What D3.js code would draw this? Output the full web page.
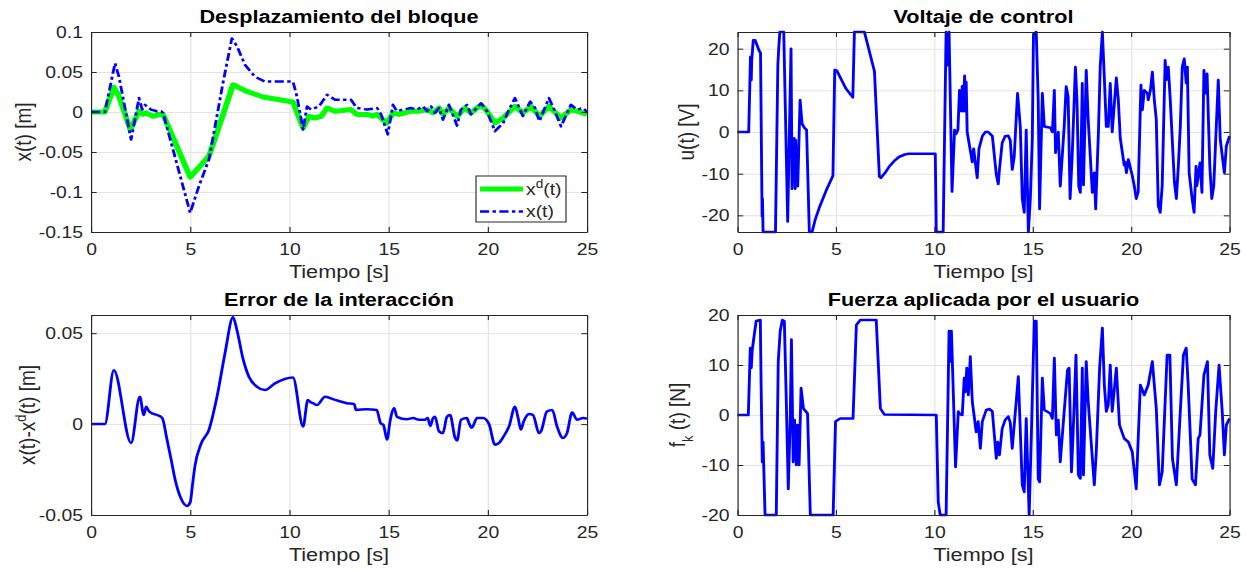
<!doctype html>
<html lang="es">
<head>
<meta charset="utf-8">
<title>Bloque - respuesta</title>
<script src="https://d3js.org/d3.v7.min.js"></script>
<style>
  body { margin: 0; background: #fff; }
  svg { display: block; font-family: "Liberation Sans", Arial, Helvetica, sans-serif; }
  .ax path, .ax line { stroke: #262626; stroke-width: 1; }
  .ax text { font-family: "Liberation Sans", Arial, sans-serif; font-size: 17px; fill: #262626; }
  .grid path { display: none; }
  .grid line { stroke: #e3e3e3; stroke-width: 1; }
  .lbl { font-size: 19px; fill: #262626; }
  .ttl { font-size: 19px; font-weight: bold; fill: #000; }
</style>
</head>
<body>
<svg width="1246" height="571"></svg>
<script>
// ticks
var xTicks = [0, 5, 10, 15, 20, 25];
var yTicksDesp = [-0.15, -0.1, -0.05, 0, 0.05, 0.1];
var yTicksVolt = [-20, -10, 0, 10, 20];
var yTicksErr = [-0.05, 0, 0.05];
var yTicksFuerza = [-20, -10, 0, 10, 20];

// x^d(t) [m]
var xdSeries = [[0,0],[0.7,0],[1.15,0.031],[1.41,0.0195],[1.98,-0.022],[2.42,0.001],[2.62,-0.003],[2.78,-0.001],[3.12,-0.0054],[3.43,-0.003],[3.63,-0.003],
  [5.0,-0.0814],[5.95,-0.055],[7.16,0.034],[7.86,0.0257],[8.67,0.0187],[10.18,0.0125],[10.69,-0.02],[10.99,-0.0054],[11.29,-0.0075],[11.6,-0.0054],
  [11.9,0.005],[12.3,0.001],[13.1,0.003],[13.4,-0.003],[13.91,-0.003],[14.2,-0.005],[14.42,-0.003],[14.72,-0.0096],[14.92,-0.0137],[15.22,-0.001],
  [15.52,-0.003],[16.13,0.001],[16.53,0.001],[16.94,0.003],[17.24,-0.001],[17.54,0.005],[17.74,-0.003],[18.04,0.005],[18.45,-0.0054],[18.85,0.005],
  [19.15,-0.001],[19.66,0.009],[19.96,0.001],[20.36,-0.0137],[20.77,-0.0075],[21.37,0.007],[21.77,-0.001],[22.18,0.007],[22.6,-0.0054],[23.08,0.007],
  [23.69,-0.0075],[24.19,0.003],[24.5,0.001],[25,-0.003]];

// x(t) [m]
var xSeries = [[0,0],[0.7,0],[1.21,0.061],[1.41,0.044],[2.02,-0.0345],[2.42,0.0174],[2.58,0.003],[2.72,0.009],[3.02,0.003],[3.33,0.001],[3.53,0.001],[3.63,-0.001],
  [5.0,-0.126],[5.44,-0.0926],[5.95,-0.059],[6.65,0.036],[7.1,0.092],[7.36,0.082],[7.76,0.059],[8.27,0.044],[8.77,0.038],[10.18,0.038],[10.38,0.0195],
  [10.69,-0.022],[10.89,0.007],[11.09,0.003],[11.49,0.007],[11.9,0.0216],[12.3,0.0154],[13.1,0.0154],[13.4,0.005],[13.91,0.003],[14.42,0.005],[14.62,-0.003],
  [14.96,-0.028],[15.22,0.009],[15.42,0.001],[15.73,0.003],[16.13,0.005],[16.43,0.003],[16.73,0.007],[16.94,0.001],[17.14,0.007],[17.34,-0.001],[17.54,0.005],
  [17.74,-0.0096],[18.04,0.009],[18.45,-0.017],[18.65,0.003],[18.95,0.009],[19.15,-0.003],[19.66,0.011],[19.96,0.001],[20.36,-0.024],[20.77,-0.014],
  [21.07,0.003],[21.37,0.0174],[21.77,-0.005],[22.14,0.013],[22.38,0.005],[22.6,-0.0116],[23.08,0.0174],[23.38,0.001],[23.69,-0.018],[24.19,0.009],
  [24.5,0.003],[24.8,0.005],[25,0]];

// u(t) [V]
var uSeries = [[0,0],[0.57,0],[0.66,18],[0.7,12.5],[0.72,17],[0.8,22],[0.9,22],[1.1,19.5],[1.17,19],[1.25,-20.3],[1.27,-16],[1.3,-24],[1.93,-24],
  [2.05,16],[2.1,20.5],[2.15,24],[2.35,24],[2.55,-21.5],[2.72,20],[2.77,-13.6],[2.83,-2],[2.88,-1.5],[2.93,-13.6],[2.96,-2],[3.0,-11],[3.06,-13],
  [3.18,7.7],[3.28,2],[3.4,1],[3.51,0.5],[3.65,-24],[3.79,-24],[3.95,-21],[4.17,-18],[4.51,-14],[4.85,-10.5],[4.94,14.9],[5.05,14.7],[5.5,10.5],
  [5.86,8.3],[5.94,24],[6.45,24],[6.96,14.5],[7.21,-10.7],[7.29,-11],[7.5,-9.8],[7.71,-8.3],[8.0,-6.8],[8.2,-6],[8.5,-5.4],[8.7,-5.2],[10.05,-5.2],
  [10.1,-24],[10.45,-24],[10.6,24],[10.7,16],[10.75,24],[10.9,-14.3],[11.03,0.5],[11.1,-0.5],[11.2,0.5],[11.28,10],[11.37,5],[11.42,11],[11.47,5],
  [11.54,13.5],[11.58,5],[11.62,12],[11.67,0],[11.93,-7.2],[12.0,-4],[12.18,-11],[12.27,-4],[12.44,-1],[12.6,0],[12.74,0],[12.95,-1],[13.15,-10.2],
  [13.25,-12.5],[13.31,-9],[13.45,-2.6],[13.6,-1],[13.76,-0.9],[13.86,-2],[13.96,-9],[14.06,-6],[14.23,9.3],[14.37,1.3],[14.47,-16],[14.57,-19.3],
  [14.67,0.5],[14.78,-24],[14.88,-16],[14.98,-1.5],[15.04,23.5],[15.18,24],[15.28,7.7],[15.35,-18.5],[15.49,9.3],[15.59,1.3],[15.9,1],[16.0,0],
  [16.1,10],[16.16,-5],[16.3,0],[16.4,-13],[16.6,1.3],[16.7,10.9],[16.8,8.5],[16.9,-16],[17.0,-6.5],[17.17,15.6],[17.25,7.7],[17.34,-13],[17.42,-14.5],
  [17.52,11.7],[17.58,-12.7],[17.72,14.8],[17.82,3],[18.03,-14.5],[18.13,-9.8],[18.2,-18.5],[18.34,0],[18.43,15.6],[18.54,24],[18.64,13],[18.74,1.3],
  [18.84,1.3],[18.94,11.7],[19.04,0],[19.25,13],[19.35,7.7],[19.45,-1.5],[19.65,-8],[19.7,-7.2],[19.76,-9.8],[19.86,-6.6],[20.06,-10.5],[20.16,-12.9],
  [20.26,-16],[20.36,-14.4],[20.47,6],[20.5,11.3],[20.57,5.3],[20.67,10],[20.83,9.3],[20.87,7.7],[20.98,10],[21.08,14.4],[21.18,7.7],[21.28,3],
  [21.38,-17.7],[21.48,-19.3],[21.58,-12.9],[21.73,17.2],[21.79,12.5],[21.89,15.6],[21.99,7.7],[22.2,-12],[22.3,-16],[22.4,-8.2],[22.5,1.3],[22.6,15.6],
  [22.7,17.6],[22.8,11.7],[22.86,15.6],[22.95,-9.8],[23.1,-16],[23.2,-19.3],[23.3,-8.2],[23.34,-12.9],[23.5,-7.4],[23.6,-14.5],[23.7,14.8],[23.8,9.3],
  [23.86,14],[24.0,-8.2],[24.1,-16],[24.2,-12.9],[24.3,-1.8],[24.43,12.5],[24.53,-1.8],[24.74,-9.8],[24.84,-3.4],[25,-1]];

// x(t)-x^d(t) [m]
var errSeries = [[0,0],[0.7,0],[1.15,0.0296],[2.02,-0.0104],[2.46,0.015],[2.66,0.005],[2.78,0.0096],[2.92,0.007],[3.12,0.0057],[3.33,0.005],[3.59,0.0033],
  [3.83,-0.0085],[4.03,-0.019],[4.23,-0.03],[4.54,-0.041],[4.84,-0.045],[5.0,-0.043],[5.12,-0.033],[5.24,-0.023],[5.54,-0.011],[5.95,-0.003],
  [6.35,0.015],[6.75,0.0387],[7.16,0.0587],[7.36,0.0515],[7.66,0.036],[7.96,0.026],[8.37,0.0205],[8.77,0.0187],[9.27,0.0224],[10.18,0.0256],
  [10.69,-0.0013],[10.93,0.0133],[11.05,0.0122],[11.19,0.0115],[11.39,0.0105],[11.8,0.015],[12.3,0.0133],[12.9,0.0115],[13.27,0.011],[13.35,0.0078],
  [13.9,0.0082],[14.4,0.0078],[14.6,0.0005],[14.74,-0.0005],[14.92,-0.0085],[15.08,0.002],[15.28,0.0087],[15.42,0.004],[15.93,0.0027],[16.23,0.0033],
  [16.53,0.0024],[16.83,0.0024],[16.97,0.0033],[17.1,-0.001],[17.24,0.0033],[17.34,0.004],[17.54,-0.004],[17.74,-0.005],[17.94,0.004],[18.1,0.005],
  [18.35,-0.0076],[18.45,-0.009],[18.65,0.0024],[18.95,0.0033],[19.05,0.0005],[19.19,-0.002],[19.46,0.0033],[19.76,0.0033],[20.06,0],[20.36,-0.0113],
  [20.56,-0.0104],[20.8,-0.0067],[21.07,-0.0013],[21.37,0.0096],[21.53,0.0033],[21.67,-0.003],[21.81,0.0015],[22.08,0.0056],[22.28,0.005],
  [22.58,-0.005],[22.68,-0.004],[22.98,0.0069],[23.25,0.0078],[23.49,-0.0013],[23.79,-0.0076],[23.99,-0.005],[24.25,0.0064],[24.5,0.0024],
  [24.8,0.0033],[25,0.003]];

// f_k(t) [N]
var fSeries = [[0,0],[0.55,0],[0.65,13.4],[0.7,9.4],[0.75,13],[0.85,16],[0.95,18.8],[1.16,19],[1.2,6],[1.26,-9.4],[1.3,-5.4],[1.4,-20],[1.97,-20],
  [2.07,10.7],[2.17,16.8],[2.28,19],[2.38,18.8],[2.48,2.7],[2.58,-14.8],[2.68,-0.7],[2.74,15.1],[2.83,-9.4],[2.9,-1],[2.99,-10],[3.05,-2],[3.13,-10],
  [3.23,5.4],[3.35,1.3],[3.56,0.3],[3.7,-20],[4.86,-20],[4.98,-1.3],[5.22,-0.7],[5.87,-0.7],[6.04,18],[6.24,19],[7.05,19],[7.26,1.3],[7.46,0.1],
  [10.1,0],[10.2,-17.4],[10.3,-20],[10.6,-20],[10.75,16.8],[10.81,10.7],[10.87,16.8],[11.08,-10.4],[11.22,0.7],[11.3,0.2],[11.42,0],[11.52,7.4],
  [11.58,4.6],[11.65,9.4],[11.73,4],[11.83,11.7],[11.93,2.7],[12.13,-3.4],[12.23,-1.3],[12.34,-6.7],[12.44,-1.3],[12.64,1],[12.8,1.2],[12.95,0.7],
  [13.15,-8.7],[13.22,-5.4],[13.31,-8],[13.45,-2.7],[13.6,-1],[13.76,-0.3],[13.86,-1.5],[13.96,-6.7],[14.27,7.7],[14.47,-14],[14.57,-15.4],[14.67,-0.7],
  [14.82,-20],[14.94,-2.7],[15.08,18.8],[15.18,18.8],[15.28,-12.8],[15.35,-13.4],[15.49,7.4],[15.59,1],[15.9,0.3],[16.0,-0.7],[16.1,11.4],[16.2,-4],
  [16.3,-1],[16.4,-9.4],[16.6,0.7],[16.77,9],[16.85,9.4],[16.97,-11.4],[17.05,-4],[17.2,12],[17.32,-12],[17.42,-12.7],[17.52,9.4],[17.58,-12],
  [17.72,10.7],[17.82,2.7],[18.13,-14],[18.23,-7.4],[18.4,9.4],[18.54,17.4],[18.64,6],[18.74,0.7],[18.84,2],[18.94,10],[19.04,0.7],[19.25,9.4],
  [19.41,-2],[19.65,-4.7],[19.86,-5.4],[20.06,-7.4],[20.26,-14.8],[20.47,6],[20.67,4],[20.87,6],[21.08,10.7],[21.28,1.3],[21.44,-14],[21.58,-11.4],
  [21.83,12],[21.97,12],[22.1,-8.7],[22.3,-14],[22.5,0.7],[22.66,12],[22.8,13.4],[22.9,6],[23.1,-12.8],[23.27,-14],[23.41,-4.7],[23.5,-4],[23.7,8],
  [23.88,10.7],[24.0,-8],[24.15,-10.7],[24.3,0.7],[24.47,10],[24.63,0.7],[24.74,-8],[24.84,-2],[25,-0.7]];

// the picture is stretched a bit in x, so draw everything in a scaled group
var sx = 1.14;
var svg = d3.select("svg");
var root = svg.append("g").attr("transform", "scale(" + sx + ",1)");

function fmt(d) { return String(+d.toFixed(2)); }

function drawPanel(p) {
  var L = p.box[0] / sx, R = p.box[1] / sx, T = p.box[2], B = p.box[3];
  var w = R - L, h = B - T;
  var g = root.append("g").attr("transform", "translate(" + L + "," + T + ")");
  var x = d3.scaleLinear().domain([0, 25]).range([0, w]);
  var y = d3.scaleLinear().domain(p.yDomain).range([h, 0]);

  g.append("g").attr("class", "grid").attr("transform", "translate(0," + h + ")")
    .call(d3.axisBottom(x).tickValues(xTicks).tickSize(-h).tickFormat(""));
  g.append("g").attr("class", "grid")
    .call(d3.axisLeft(y).tickValues(p.yTicks).tickSize(-w).tickFormat(""));

  p.series.forEach(function(s) {
    var line = d3.line().curve(s.curve || d3.curveLinear)
      .x(function(d) { return x(d[0]); }).y(function(d) { return y(d[1]); });
    g.append("path").datum(s.data).attr("d", line)
      .attr("fill", "none").attr("stroke", s.color).attr("stroke-width", s.width)
      .attr("stroke-linejoin", "round")
      .attr("stroke-dasharray", s.dash || null);
  });

  g.append("g").attr("class", "ax").attr("transform", "translate(0," + h + ")")
    .call(d3.axisBottom(x).tickValues(xTicks).tickSizeInner(-5).tickSizeOuter(0).tickPadding(11).tickFormat(fmt));
  g.append("g").attr("class", "ax")
    .call(d3.axisTop(x).tickValues(xTicks).tickSizeInner(-5).tickSizeOuter(0).tickFormat(""));
  g.append("g").attr("class", "ax")
    .call(d3.axisLeft(y).tickValues(p.yTicks).tickSizeInner(-5).tickSizeOuter(0).tickPadding(7).tickFormat(fmt));
  g.append("g").attr("class", "ax").attr("transform", "translate(" + w + ",0)")
    .call(d3.axisRight(y).tickValues(p.yTicks).tickSizeInner(-5).tickSizeOuter(0).tickFormat(""));

  g.append("text").attr("class", "ttl").attr("x", w / 2).attr("y", -9)
    .attr("text-anchor", "middle").text(p.title);
  g.append("text").attr("class", "lbl").attr("x", w / 2).attr("y", h + 46)
    .attr("text-anchor", "middle").text("Tiempo [s]");

  var yl = root.append("text").attr("class", "lbl").attr("text-anchor", "middle")
    .attr("transform", "translate(" + (p.ylabelX / sx) + "," + (T + h / 2) + ") rotate(-90)")
    .attr("dy", "0.35em");
  p.ylabel.forEach(function(part) {
    var ts = yl.append("tspan").text(part[0]);
    if (part[1] === "sup") ts.attr("font-size", "13px").attr("baseline-shift", "super");
    if (part[1] === "sub") ts.attr("font-size", "13px").attr("baseline-shift", "sub");
  });
  return { g: g, x: x, y: y, w: w, h: h };
}

drawPanel({
  box: [91, 587, 32, 232], yDomain: [-0.15, 0.1], yTicks: yTicksDesp,
  title: "Desplazamiento del bloque", ylabelX: 23, ylabel: [["x(t) [m]"]],
  series: [
    { data: xdSeries, color: "#00ff00", width: 5 },
    { data: xSeries, color: "#0000ff", width: 2.5, dash: "8,3,3,3" }
  ]
});

drawPanel({
  box: [737.5, 1229.5, 32, 232], yDomain: [-24, 24], yTicks: yTicksVolt,
  title: "Voltaje de control", ylabelX: 686, ylabel: [["u(t) [V]"]],
  series: [{ data: uSeries, color: "#0000ff", width: 2.5 }]
});

drawPanel({
  box: [91, 587, 315, 515], yDomain: [-0.05, 0.06], yTicks: yTicksErr,
  title: "Error de la interacción", ylabelX: 27,
  ylabel: [["x(t)-x"], ["d", "sup"], ["(t) [m]"]],
  series: [{ data: errSeries, color: "#0000ff", width: 2.5, curve: d3.curveMonotoneX }]
});

drawPanel({
  box: [737.5, 1229.5, 315, 515], yDomain: [-20, 20], yTicks: yTicksFuerza,
  title: "Fuerza aplicada por el usuario", ylabelX: 677,
  ylabel: [["f"], ["k", "sub"], [" (t) [N]"]],
  series: [{ data: fSeries, color: "#0000ff", width: 2.5 }]
});

// legend of the first panel
var lg = root.append("g").attr("transform", "translate(" + (476 / sx) + ",176)");
var lw = 90 / sx, lh = 46;
lg.append("rect").attr("width", lw).attr("height", lh)
  .attr("fill", "#fff").attr("stroke", "#262626").attr("stroke-width", 1);
var entries = [
  { color: "#00ff00", width: 5, dash: null, parts: [["x"], ["d", "sup"], ["(t)"]] },
  { color: "#0000ff", width: 2.5, dash: "8,3,3,3", parts: [["x(t)"]] }
];
entries.forEach(function(e, i) {
  var cy = 13 + i * 22.5;
  lg.append("line").attr("x1", 4 / sx).attr("x2", 47 / sx).attr("y1", cy).attr("y2", cy)
    .attr("stroke", e.color).attr("stroke-width", e.width).attr("stroke-dasharray", e.dash);
  var t = lg.append("text").attr("x", 50 / sx).attr("y", cy + 6)
    .attr("font-size", "17px").attr("fill", "#262626");
  e.parts.forEach(function(part) {
    var ts = t.append("tspan").text(part[0]);
    if (part[1] === "sup") ts.attr("font-size", "12px").attr("baseline-shift", "super");
  });
});
</script>
</body>
</html>
